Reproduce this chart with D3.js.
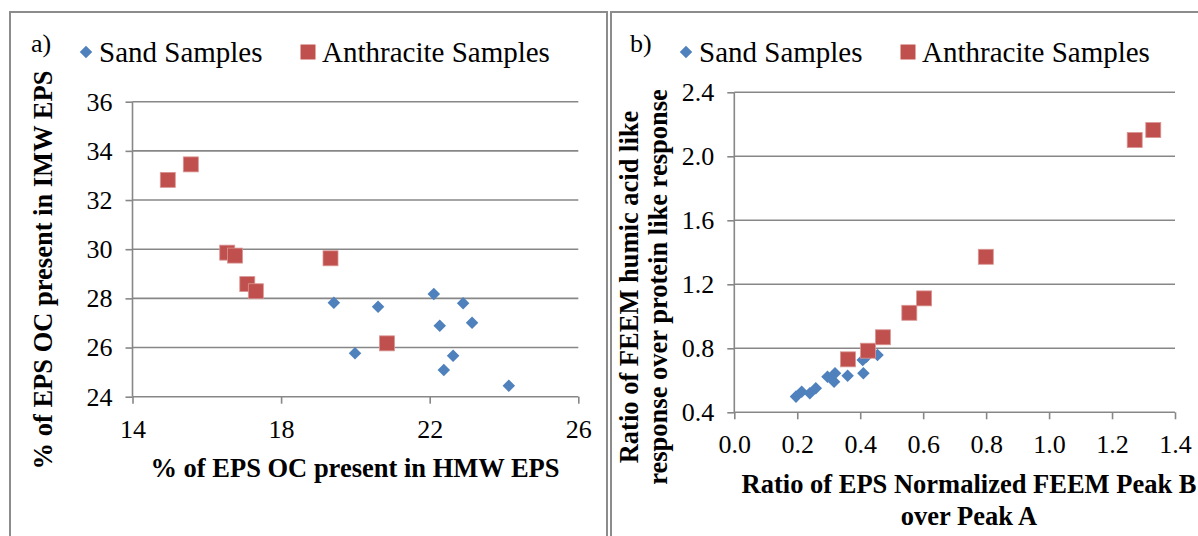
<!DOCTYPE html>
<html>
<head>
<meta charset="utf-8">
<script src="https://cdn.jsdelivr.net/npm/d3@7"></script>
</head>
<body style="margin:0;background:#fff">
<svg id="fig" width="1198" height="536"></svg>
<script>
// Panel a) : % of EPS OC in HMW vs IMW fraction
const aSandHMW = [19.42, 19.99, 20.61, 22.11, 22.27, 22.90, 23.14, 22.63, 22.38, 24.13];
const aSandIMW = [27.82, 25.77, 27.66, 28.18, 26.89, 27.80, 27.01, 25.67, 25.09, 24.45];
const aAnthHMW = [14.95, 15.57, 16.55, 16.76, 17.09, 17.32, 19.33, 20.85];
const aAnthIMW = [32.82, 33.45, 29.86, 29.74, 28.58, 28.29, 29.63, 26.17];
const aXTicks = [14, 18, 22, 26];
const aYTicks = [24, 26, 28, 30, 32, 34, 36];

// Panel b) : FEEM peak ratio vs humic/protein response ratio
const bSandPeak = [0.196, 0.214, 0.240, 0.259, 0.296, 0.320, 0.317, 0.360, 0.410, 0.408, 0.420, 0.455];
const bSandResp = [0.498, 0.529, 0.519, 0.550, 0.622, 0.644, 0.591, 0.629, 0.644, 0.727, 0.748, 0.758];
const bAnthPeak = [0.361, 0.425, 0.472, 0.556, 0.603, 0.799, 1.272, 1.331];
const bAnthResp = [0.731, 0.785, 0.869, 1.022, 1.112, 1.372, 2.102, 2.164];
const bXTicks = [0.0, 0.2, 0.4, 0.6, 0.8, 1.0, 1.2, 1.4];
const bYTicks = [0.4, 0.8, 1.2, 1.6, 2.0, 2.4];

const seriesNames = ["Sand Samples", "Anthracite Samples"];
const SAND = "#4F81BD", ANTH = "#C0504D", GRID = "#878787", FRAME = "#8c8c8c";
const FONT = "Liberation Serif";

const svg = d3.select("#fig");

// outer frames of the two panels
svg.append("rect").attr("x", 10).attr("y", 12).attr("width", 597).attr("height", 540)
  .attr("fill", "none").attr("stroke", FRAME).attr("stroke-width", 2);
svg.append("rect").attr("x", 611).attr("y", 12).attr("width", 600).attr("height", 540)
  .attr("fill", "none").attr("stroke", FRAME).attr("stroke-width", 2);

const diamond = d3.symbol().type(d3.symbolDiamond2).size(100);

function label(sel, size, weight) {
  sel.style("font-family", FONT).style("font-size", size + "px").attr("fill", "#000");
  if (weight) sel.style("font-weight", weight);
  return sel;
}

function panel(cfg) {
  const g = svg.append("g");
  const x = d3.scaleLinear().domain(cfg.xDomain).range(cfg.xRange);
  const y = d3.scaleLinear().domain(cfg.yDomain).range(cfg.yRange);

  // horizontal gridlines
  g.append("g").selectAll("line").data(cfg.yTicks.slice(1)).join("line")
    .attr("x1", cfg.xRange[0]).attr("x2", cfg.xRange[1])
    .attr("y1", d => y(d)).attr("y2", d => y(d))
    .attr("stroke", GRID).attr("stroke-width", 1.6);

  // axes
  const yAxis = d3.axisLeft(y).tickValues(cfg.yTicks).tickSize(7).tickPadding(13)
    .tickFormat(cfg.yFormat);
  const ya = g.append("g").attr("transform", `translate(${cfg.xRange[0]},0)`).call(yAxis);
  const xAxis = d3.axisBottom(x).tickValues(cfg.xTicks).tickSize(7).tickPadding(cfg.xPad)
    .tickFormat(cfg.xFormat);
  const xa = g.append("g").attr("transform", `translate(0,${cfg.yRange[0]})`).call(xAxis);

  [ya, xa].forEach(a => {
    a.attr("font-family", null).attr("font-size", null);
    a.select(".domain").attr("stroke", GRID).attr("stroke-width", 1.6);
    a.selectAll(".tick line").attr("stroke", GRID).attr("stroke-width", 1.6);
    label(a.selectAll(".tick text"), 26);
  });
  ya.select(".domain").attr("d", `M0,${cfg.yRange[0]}V${cfg.yRange[1]}`);
  xa.select(".domain").attr("d", `M${cfg.xRange[0]},0H${cfg.xRange[1]}`);

  // points
  const sand = cfg.sandX.map((v, i) => [v, cfg.sandY[i]]);
  const anth = cfg.anthX.map((v, i) => [v, cfg.anthY[i]]);
  g.append("g").selectAll("path").data(sand).join("path")
    .attr("d", diamond)
    .attr("transform", d => `translate(${x(d[0])},${y(d[1])})`)
    .attr("fill", SAND);
  g.append("g").selectAll("rect").data(anth).join("rect")
    .attr("x", d => x(d[0]) - 7.5).attr("y", d => y(d[1]) - 7.5)
    .attr("width", 15).attr("height", 15)
    .attr("fill", ANTH).attr("stroke", "#d99694").attr("stroke-width", 0.8);

  // panel letter
  label(g.append("text").attr("x", cfg.letterX).attr("y", 52), 26).text(cfg.letter);

  // legend
  const lg = g.append("g");
  lg.append("path").attr("d", diamond).attr("transform", `translate(${cfg.legX[0]},52)`).attr("fill", SAND);
  label(lg.append("text").attr("x", cfg.legX[0] + 13).attr("y", 62), 29).text(seriesNames[0]);
  lg.append("rect").attr("x", cfg.legX[1] - 7.5).attr("y", 44.5).attr("width", 15).attr("height", 15).attr("fill", ANTH);
  label(lg.append("text").attr("x", cfg.legX[1] + 14).attr("y", 62), 29).text(seriesNames[1]);

  // x-axis title
  const xt = label(g.append("text").attr("text-anchor", "middle"), cfg.titleSize, "bold");
  cfg.xTitle.forEach((t, i) => xt.append("tspan").attr("x", cfg.xTitleX).attr("y", cfg.xTitleY + i * 32).text(t));

  // y-axis title
  const yt = label(g.append("text").attr("text-anchor", "middle"), cfg.titleSize, "bold")
    .attr("transform", `translate(${cfg.yTitleX},${cfg.yTitleY}) rotate(-90)`);
  cfg.yTitle.forEach((t, i) => yt.append("tspan").attr("x", 0).attr("y", i * 29).text(t));
}

panel({
  xDomain: [14, 26], xRange: [132.5, 578.3],
  yDomain: [24, 36], yRange: [396.7, 101.7],
  xTicks: aXTicks, yTicks: aYTicks,
  xFormat: d3.format("d"), yFormat: d3.format("d"), xPad: 16,
  sandX: aSandHMW, sandY: aSandIMW, anthX: aAnthHMW, anthY: aAnthIMW,
  letter: "a)", letterX: 31, legX: [86, 308], titleSize: 26.5,
  xTitle: ["% of EPS OC present in HMW EPS"], xTitleX: 355, xTitleY: 477,
  yTitle: ["% of EPS OC present in IMW EPS"], yTitleX: 52, yTitleY: 270
});

panel({
  xDomain: [0, 1.4], xRange: [734.3, 1175],
  yDomain: [0.4, 2.4], yRange: [412.3, 92.3],
  xTicks: bXTicks, yTicks: bYTicks,
  xFormat: d3.format(".1f"), yFormat: d3.format(".1f"), xPad: 15,
  sandX: bSandPeak, sandY: bSandResp, anthX: bAnthPeak, anthY: bAnthResp,
  letter: "b)", letterX: 630, legX: [686, 908], titleSize: 26.5,
  xTitle: ["Ratio of EPS Normalized FEEM Peak B", "over Peak A"], xTitleX: 969, xTitleY: 493,
  yTitle: ["Ratio of FEEM humic acid like", "response over protein like response"], yTitleX: 638, yTitleY: 287
});
</script>
</body>
</html>
